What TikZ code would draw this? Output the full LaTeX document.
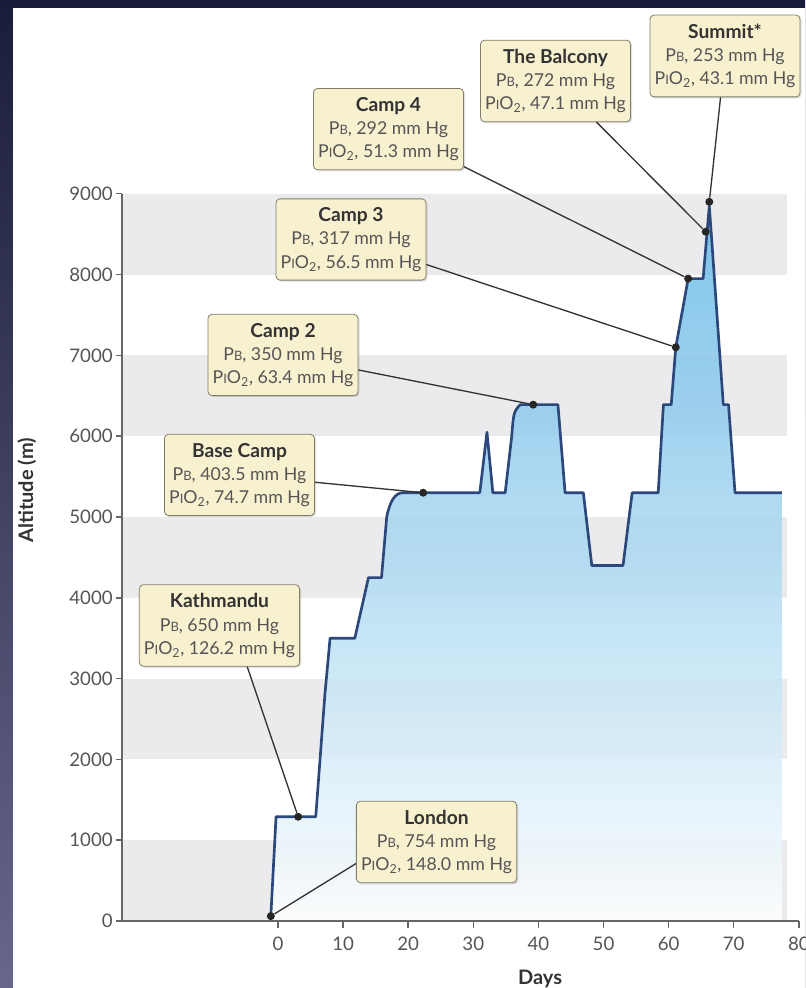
\documentclass[tikz,border=0pt]{standalone}
\usepackage{fontspec}
\setmainfont{Lato}
\usepackage{xcolor}
\usepackage{tikz}
\usetikzlibrary{shadows}

\definecolor{navy}{RGB}{26,29,58}
\definecolor{frameend}{RGB}{104,102,138}
\definecolor{band}{RGB}{235,235,237}
\definecolor{routeblue}{RGB}{44,72,122}
\definecolor{boxfill}{RGB}{247,241,208}
\definecolor{boxline}{RGB}{128,126,104}
\definecolor{inktext}{RGB}{85,85,85}
\definecolor{darktext}{RGB}{51,51,51}
\definecolor{skyA}{RGB}{236,246,252}
\definecolor{skyB}{RGB}{188,225,244}
\definecolor{skyC}{RGB}{146,204,237}
\definecolor{skyD}{RGB}{104,188,232}
\pgfdeclareverticalshading{sky}{100bp}{color(0bp)=(white); color(25bp)=(white);
  color(30bp)=(skyA); color(45bp)=(skyB); color(60bp)=(skyC); color(75bp)=(skyD); color(100bp)=(skyD)}

\newcommand{\smc}[1]{{\fontsize{9.7}{9.7}\selectfont #1}}
\newcommand{\presB}{P\smc{B}}
\newcommand{\presIO}{P\smc{I}O\textsubscript{2}}
\newcommand{\boxtitle}[1]{{\fontsize{14.4}{17.5}\selectfont\bfseries\color{darktext}#1}}

\tikzset{
  climbpath/.style={insert path={(-1.1,0.06) -- (-0.3,1.29) -- (5.8,1.29) -- (7.2,2.8) -- (8.0,3.5)
    -- (11.8,3.5) -- (13.9,4.25) -- (15.9,4.25) -- (16.7,5.0) .. controls (17.2,5.2) and (18,5.3) .. (19.2,5.3)
    -- (31.0,5.3) -- (32.1,6.05) -- (33.0,5.3) -- (34.9,5.3) -- (35.9,6.0) .. controls (36.2,6.3) .. (37.2,6.39)
    -- (43.0,6.39) -- (44.1,5.3) -- (46.9,5.3) -- (48.2,4.4) -- (53.0,4.4) -- (54.4,5.3) -- (58.4,5.3)
    -- (59.2,6.39) -- (60.4,6.39) -- (61.1,7.1) -- (63.0,7.95) -- (65.3,7.95) -- (66.25,8.85)
    -- (68.4,6.39) -- (69.2,6.39) -- (70.2,5.3) -- (77.4,5.3)}}
}

\begin{document}
\begin{tikzpicture}[x=4.8825pt, y=60.6pt,
  dot/.style={circle, fill=black!85, inner sep=0pt, minimum size=6pt},
  infobox/.style={draw=boxline, fill=boxfill, rounded corners=3pt, line width=.6pt, align=center,
    inner xsep=3.5pt, inner ysep=6.5pt, text=inktext, font=\fontsize{13.3}{17.5}\selectfont,
    drop shadow={shadow xshift=1.2pt, shadow yshift=-1.2pt, opacity=.25}},
  leader/.style={draw=black!80, line width=1pt},
  axisline/.style={draw=black!60, line width=1.1pt},
  ticklabel/.style={text=inktext, font=\fontsize{14}{16}\selectfont, inner sep=0pt},
  axislabel/.style={text=darktext, font=\fontsize{15}{18}\selectfont\bfseries},
  route/.style={draw=routeblue, line width=2pt, line join=round},
]
  \useasboundingbox (-42.70,-0.829) rectangle (80.95,11.398);
  % frame and page
  \fill[top color=navy, bottom color=frameend] (-42.70,-0.829) rectangle (80.95,11.398);
  \fill[white] (-40.71,-0.829) rectangle (80.95,11.299);

  % bands
  \foreach \k in {0,2,...,8}
    \fill[band] (-23.96,\k) rectangle (78.2,\k+1);

  % altitude profile
  \shade[shading=sky, fill opacity=.85] [climbpath] -- (77.4,0) -- (-1.1,0) -- cycle;

  % axes
  \draw[axisline] (-23.96,9) -- (-23.96,0) -- (80,0);
  \foreach \k in {0,...,9} {
    \pgfmathtruncatemacro\alt{\k*1000}
    \draw[axisline] (-23.96,\k) -- ++(-0.92,0);
    \node[ticklabel, anchor=east] (yl\k) at (-25.35,\k) {\alt};
  }
  \foreach \d in {0,10,...,80} {
    \draw[axisline] (\d,0) -- (\d,-0.087);
    \node[ticklabel] (xl\d) at (\d,-0.285) {\d};
  }
  \node[axislabel] (xlab) at (40.25,-0.72) {Days};
  \node[axislabel, rotate=90] (ylab) at (-38.56,5.33) {Altitude (m)};

  \draw[route] [climbpath];

  % stops
  \node[dot] (dlondon) at (-1.1,0.06) {};
  \node[dot] (dkath) at (3.1,1.29) {};
  \node[dot] (dbase) at (22.3,5.3) {};
  \node[dot] (dcamp2) at (39.2,6.39) {};
  \node[dot] (dcamp3) at (61.1,7.1) {};
  \node[dot] (dcamp4) at (63.0,7.95) {};
  \node[dot] (dbalcony) at (65.7,8.53) {};
  \node[dot] (dsummit) at (66.25,8.9) {};

  % boxes
  \node[infobox] (summit) at (68.66,10.705) {\boxtitle{Summit*}\\ \presB, 253 mm Hg\\ \presIO, 43.1 mm Hg};
  \node[infobox] (balcony) at (42.63,10.396) {\boxtitle{The Balcony}\\ \presB, 272 mm Hg\\ \presIO, 47.1 mm Hg};
  \node[infobox] (camp4) at (16.97,9.80) {\boxtitle{Camp 4}\\ \presB, 292 mm Hg\\ \presIO, 51.3 mm Hg};
  \node[infobox] (camp3) at (11.21,8.434) {\boxtitle{Camp 3}\\ \presB, 317 mm Hg\\ \presIO, 56.5 mm Hg};
  \node[infobox] (camp2) at (0.77,7.005) {\boxtitle{Camp 2}\\ \presB, 350 mm Hg\\ \presIO, 63.4 mm Hg};
  \node[infobox] (basecamp) at (-5.91,5.52) {\boxtitle{Base Camp}\\ \presB, 403.5 mm Hg\\ \presIO, 74.7 mm Hg};
  \node[infobox] (kathmandu) at (-8.99,3.657) {\boxtitle{Kathmandu}\\ \presB, 650 mm Hg\\ \presIO, 126.2 mm Hg};
  \node[infobox] (london) at (24.35,0.978) {\boxtitle{London}\\ \presB, 754 mm Hg\\ \presIO, 148.0 mm Hg};

  \draw[leader] (dsummit) -- (summit);
  \draw[leader] (dbalcony) -- (balcony);
  \draw[leader] (dcamp4) -- (camp4);
  \draw[leader] (dcamp3) -- (camp3);
  \draw[leader] (dcamp2) -- (camp2);
  \draw[leader] (dbase) -- (basecamp);
  \draw[leader] (dkath) -- (kathmandu.-56);
  \draw[leader] (dlondon) -- (london.195);
\end{tikzpicture}
\end{document}
